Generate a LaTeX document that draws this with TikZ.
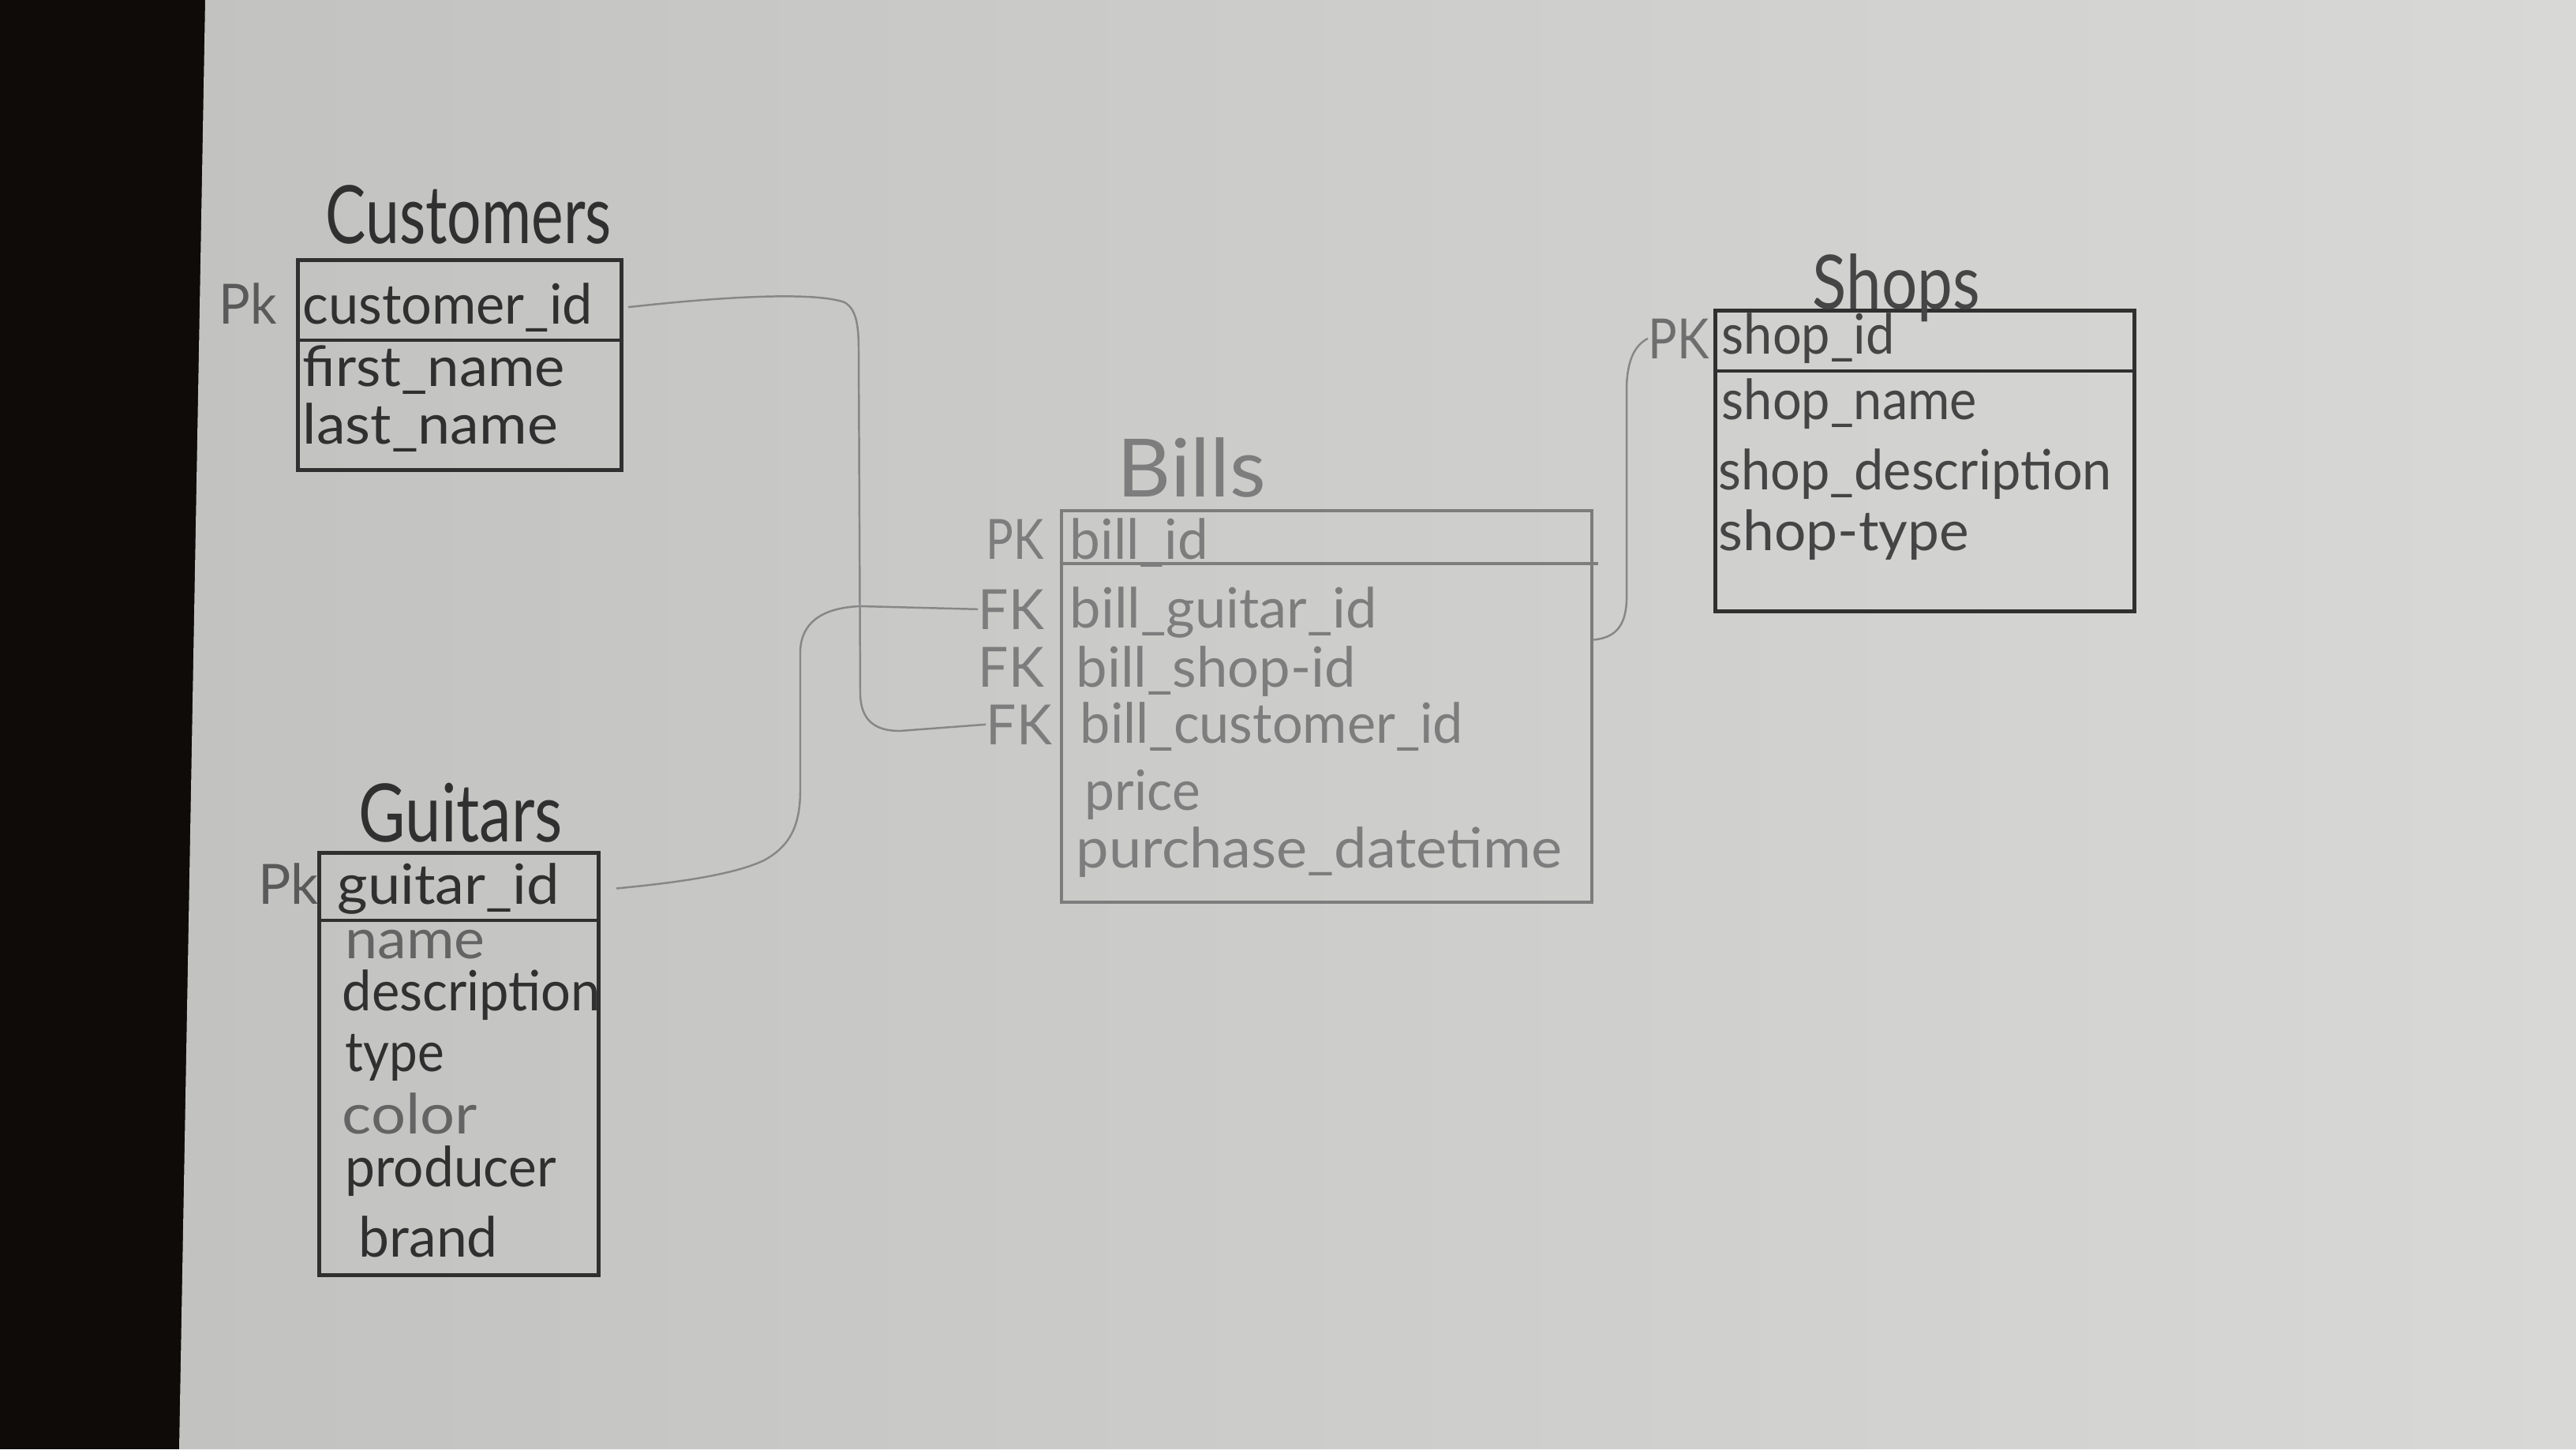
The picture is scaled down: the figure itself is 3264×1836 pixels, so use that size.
\documentclass[tikz,border=0pt]{standalone}
\usepackage{fontspec}
\setmainfont{Lato}
\usepackage{graphicx}
\definecolor{paperL}{RGB}{194,194,193}
\definecolor{paperR}{RGB}{216,216,215}
\definecolor{desk}{RGB}{14,11,9}
\definecolor{pencil}{RGB}{48,48,48}
\definecolor{pencilB}{RGB}{125,125,125}
\definecolor{wirec}{RGB}{135,135,135}
\newcommand\fw[2]{\resizebox{#1cm}{\height}{#2}}
\begin{document}
\begin{tikzpicture}[x=0.01cm,y=-0.01cm,
  rowtxt/.style={anchor=base west, inner sep=0pt, font=\fontsize{20}{22}\selectfont},
  ttl/.style={anchor=base west, inner sep=0pt, font=\fontsize{29}{31}\selectfont},
  tbl/.style={draw, anchor=north west, inner sep=0pt, line width=1.4pt},
  wirestyle/.style={draw=wirec, line width=0.7pt}
]
\useasboundingbox (0,0) rectangle (3264,1836);
\fill[desk] (0,0) rectangle (3264,1836);
\shade[left color=paperL, right color=paperR] (260,0) -- (3264,0) -- (3264,1836) -- (227,1836) -- cycle;

% ---------- Customers ----------
\begin{scope}[pencil, text=pencil]
\node[tbl, minimum width=4.1cm, minimum height=2.66cm] (cbox) at (375,327) {};
\draw[line width=1.4pt] (375,431) -- (785,431);
\node[ttl] (ctitle) at (412,308) {\fw{3.62}{Customers}};
\node[rowtxt, text=pencil!80] (cpk) at (277,410) {\fw{0.73}{Pk}};
\node[rowtxt] (cid) at (383,410) {\fw{3.67}{customer\_id}};
\node[rowtxt] (cfn) at (383,489) {\fw{3.32}{first\_name}};
\node[rowtxt] (cln) at (383,562) {\fw{3.23}{last\_name}};
\end{scope}

% ---------- Guitars ----------
\begin{scope}[pencil, text=pencil]
\node[tbl, minimum width=3.54cm, minimum height=5.35cm] (gbox) at (402,1078) {};
\draw[line width=1.4pt] (402,1166) -- (756,1166);
\node[ttl] (gtitle) at (454,1066) {\fw{2.58}{Guitars}};
\node[rowtxt, text=pencil!80] (gpk) at (327,1145) {\fw{0.76}{Pk}};
\node[rowtxt] (gid) at (427,1145) {\fw{2.81}{guitar\_id}};
\node[rowtxt, text=pencil!75] (gname) at (437,1214) {\fw{1.77}{name}};
\node[rowtxt] (gdesc) at (433,1280) {\fw{3.27}{description}};
\node[rowtxt] (gtype) at (437,1357) {\fw{1.25}{type}};
\node[rowtxt, text=pencil!75] (gcolor) at (433,1436) {\fw{1.71}{color}};
\node[rowtxt] (gprod) at (437,1503) {\fw{2.67}{producer}};
\node[rowtxt] (gbrand) at (454,1592) {\fw{1.76}{brand}};
\end{scope}

% ---------- Bills ----------
\begin{scope}[pencilB, text=pencilB]
\node[tbl, line width=1.1pt, minimum width=6.72cm, minimum height=4.96cm] (bbox) at (1343,645) {};
\draw[line width=1.1pt] (1343,714) -- (2025,714);
\node[ttl] (btitle) at (1415,629) {\fw{1.88}{Bills}};
\node[rowtxt] (bpk) at (1249,708) {\fw{0.73}{PK}};
\node[rowtxt] (fk1) at (1239,797) {\fw{0.83}{FK}};
\node[rowtxt] (fk2) at (1239,870) {\fw{0.83}{FK}};
\node[rowtxt] (fk3) at (1249,943) {\fw{0.83}{FK}};
\node[rowtxt] (bid) at (1355,708) {\fw{1.75}{bill\_id}};
\node[rowtxt] (bgid) at (1355,795) {\fw{3.89}{bill\_guitar\_id}};
\node[rowtxt] (bsid) at (1363,870) {\fw{3.54}{bill\_shop-id}};
\node[rowtxt] (bcid) at (1368,941) {\fw{4.85}{bill\_customer\_id}};
\node[rowtxt] (bprice) at (1374,1026) {\fw{1.46}{price}};
\node[rowtxt] (bpdt) at (1363,1099) {\fw{6.15}{purchase\_datetime}};
\end{scope}

% ---------- Shops ----------
\begin{scope}[pencil, text=pencil!90]
\node[tbl, minimum width=5.31cm, minimum height=3.81cm] (sbox) at (2171,391) {};
\draw[line width=1.4pt] (2171,470) -- (2702,470);
\node[ttl, font=\fontsize{27}{29}\selectfont] (stitle) at (2296,391) {\fw{2.12}{Shops}};
\node[rowtxt, text=pencil!70] (spk) at (2088,454) {\fw{0.77}{PK}};
\node[rowtxt] (ssid) at (2181,448) {\fw{2.19}{shop\_id}};
\node[rowtxt] (ssn) at (2181,531) {\fw{3.23}{shop\_name}};
\node[rowtxt] (ssd) at (2177,620) {\fw{4.98}{shop\_description}};
\node[rowtxt] (sst) at (2177,697) {\fw{3.17}{shop-type}};
\end{scope}

% ---------- Connectors ----------
\draw[wirestyle] ([xshift=0.06cm]cbox.east |- cid)
  .. controls (950,372) and (1040,372) .. (1070,383)
  .. controls (1086,392) and (1088,415) .. (1088,445)
  -- (1090,880)
  .. controls (1091,912) and (1108,926) .. (1140,926)
  -- (fk3.west);
\draw[wirestyle] ([xshift=0.2cm]gbox.east |- gid)
  .. controls (860,1118) and (930,1108) .. (968,1090)
  .. controls (1005,1070) and (1014,1040) .. (1014,1000)
  -- (1014,825)
  .. controls (1015,790) and (1040,770) .. (1090,768)
  -- (fk1.west);
\draw[wirestyle] ([yshift=-0.35cm]bbox.east |- bgid)
  .. controls (2045,808) and (2060,795) .. (2061,760)
  -- (2061,490)
  .. controls (2062,455) and (2072,437) .. (spk.west);
\end{tikzpicture}
\end{document}
